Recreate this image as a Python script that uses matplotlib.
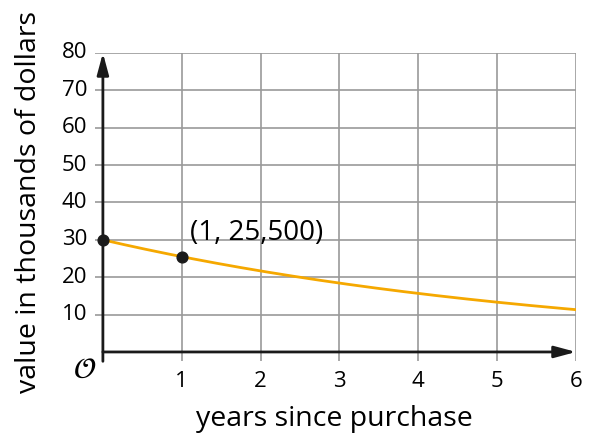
import matplotlib.pyplot as plt
import numpy as np

plt.rcParams['font.family'] = ['Open Sans', 'DejaVu Sans']

# data
x_ticks = [1, 2, 3, 4, 5, 6]
y_ticks = [10, 20, 30, 40, 50, 60, 70, 80]
start_value = 30      # thousands of dollars
decay = 0.85          # 25,500 / 30,000
points_x = [0, 1]
points_y = [30, 25.5]

fig = plt.figure(figsize=(5.89, 4.34), dpi=100)
ax = fig.add_axes([0.1613, 0.1675, 0.8167, 0.7105])
ax.set_xlim(-0.1, 6)
ax.set_ylim(-2.5, 80)

# grid
ax.hlines(y_ticks, -0.1, 6, color='#9a9a9a', lw=1.2, zorder=1)
ax.vlines(x_ticks, -2.5, 80, color='#9a9a9a', lw=1.2, zorder=1)

# axes with arrows
ax.annotate('', xy=(6, 0), xytext=(0, 0),
            arrowprops=dict(arrowstyle='-|>,head_length=1.3,head_width=0.35',
                            color='#1a1a1a', lw=2, shrinkA=0, shrinkB=0), zorder=3)
ax.annotate('', xy=(0, 80), xytext=(0, -2.5),
            arrowprops=dict(arrowstyle='-|>,head_length=1.3,head_width=0.35',
                            color='#1a1a1a', lw=2, shrinkA=0, shrinkB=0), zorder=3)

# curve
xs = np.linspace(0, 6, 200)
ax.plot(xs, start_value * decay ** xs, color='#f5a800', lw=2, zorder=2)
ax.scatter(points_x, points_y, s=60, color='#1a1a1a', zorder=4)
ax.text(1.11, 31.8, '(1, 25,500)', fontsize=20, ha='left', va='center')

for s in ax.spines.values():
    s.set_visible(False)
ax.set_xticks([])
ax.set_yticks([])
for t in x_ticks:
    ax.text(t, -5, str(t), ha='center', va='top', fontsize=16)
for t in y_ticks:
    ax.text(-0.2, t, str(t), ha='right', va='center', fontsize=16)
ax.text(-0.08, -1.0, r'$\mathcal{O}$', ha='right', va='top', fontsize=21)

fig.text(0.567, 0.035, 'years since purchase', ha='center', va='center', fontsize=20.5)
fig.text(0.05, 0.535, 'value in thousands of dollars', ha='center', va='center',
         rotation=90, fontsize=20.5)

fig.savefig('out.png', dpi=100)
